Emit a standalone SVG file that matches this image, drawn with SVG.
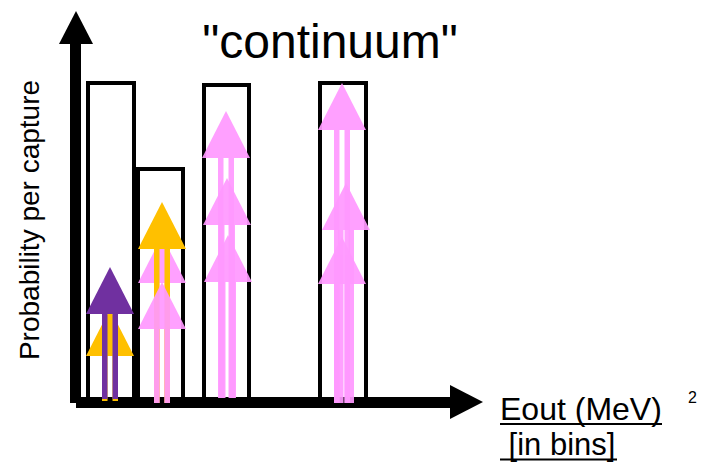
<svg xmlns="http://www.w3.org/2000/svg" width="702" height="463" viewBox="0 0 702 463">
  <style>
    .lbl { font-family: "Liberation Sans", Arial, sans-serif; fill: #000; }
    .uline { stroke: #000; stroke-width: 2.2; }
    .bin { fill: none; stroke: #000; stroke-width: 4; }
    .purple { fill: #7030A0; }
    .gold { fill: #FFC000; }
    .pink { fill: #FF99FF; opacity: 0.92; }
  </style>
  <defs>
    <!-- upward arrow: triangle head (apex at 0,0) and a split shaft -->
    <g id="arr">
      <polygon points="0,0 24,47 -24,47"/>
      <rect x="-8" y="47" width="5.5" height="400"/>
      <rect x="2.5" y="47" width="5.5" height="400"/>
    </g>
    <clipPath id="c403"><rect x="0" y="0" width="702" height="403"/></clipPath>
    <clipPath id="c401"><rect x="0" y="0" width="702" height="401"/></clipPath>
    <clipPath id="c399"><rect x="0" y="0" width="702" height="399"/></clipPath>
    <clipPath id="c398"><rect x="0" y="0" width="702" height="398"/></clipPath>
  </defs>

  <rect width="702" height="463" fill="#fff"/>

  <!-- histogram bins -->
  <g id="bins">
    <rect id="bin1" class="bin" x="88" y="83" width="46" height="318"/>
    <rect id="bin2" class="bin" x="138" y="169" width="45" height="232"/>
    <rect id="bin3" class="bin" x="204" y="85" width="45" height="316"/>
    <rect id="bin4" class="bin" x="320" y="83" width="46" height="318"/>
  </g>

  <!-- axes -->
  <g id="axes" fill="#000">
    <rect x="70" y="40" width="11" height="363"/>
    <polygon points="76,11 93,44 59,44"/>
    <rect x="76" y="397" width="378" height="11"/>
    <polygon points="483,402 450,385 450,419"/>
  </g>

  <!-- gamma lines per bin -->
  <g id="lines">
    <g id="bin1-lines">
      <g clip-path="url(#c401)">
        <use href="#arr" class="gold" x="110" y="309"/>
      </g>
      <g clip-path="url(#c399)">
        <use href="#arr" class="purple" x="110" y="267"/>
      </g>
    </g>
    <g id="bin2-lines" clip-path="url(#c403)">
      <use href="#arr" class="pink" x="162" y="236"/>
      <use href="#arr" class="gold" x="162" y="202"/>
      <use href="#arr" class="pink" x="162" y="282"/>
    </g>
    <g id="bin3-lines" clip-path="url(#c398)">
      <use href="#arr" class="pink" x="226" y="111"/>
      <use href="#arr" class="pink" x="227" y="178"/>
      <use href="#arr" class="pink" x="228" y="235"/>
    </g>
    <g id="bin4-lines" clip-path="url(#c403)">
      <use href="#arr" class="pink" x="342" y="83"/>
      <use href="#arr" class="pink" x="346" y="183"/>
      <use href="#arr" class="pink" x="342" y="237"/>
    </g>
  </g>

  <!-- labels -->
  <g id="labels">
    <text class="lbl" x="330" y="58" font-size="48" text-anchor="middle">"continuum"</text>
    <text class="lbl" font-size="28" text-anchor="middle" transform="translate(39,220) rotate(-90)">Probability per capture</text>
    <text class="lbl" x="500" y="420" font-size="32">Eout (MeV)</text>
    <line class="uline" x1="500" y1="424" x2="662" y2="424"/>
    <text class="lbl" x="500" y="455" font-size="31" xml:space="preserve"> [in bins]</text>
    <line class="uline" x1="500" y1="459.5" x2="617" y2="459.5"/>
    <text class="lbl" x="688" y="403" font-size="16">2</text>
  </g>
</svg>
